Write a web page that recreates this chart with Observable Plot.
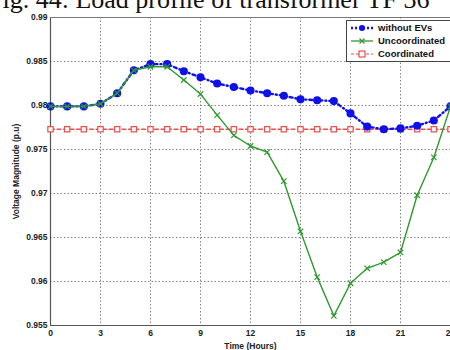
<!DOCTYPE html>
<html>
<head>
<meta charset="utf-8">
<script src="https://cdn.jsdelivr.net/npm/d3@7"></script>
<script src="https://cdn.jsdelivr.net/npm/@observablehq/plot@0.6"></script>
<style>
  html, body { margin: 0; padding: 0; background: #fff; overflow: hidden; }
  #wrap { position: relative; width: 450px; height: 350px; overflow: hidden; }
  #title { position: absolute; left: -12px; top: -15px; font-family: "Liberation Serif", "DejaVu Serif", serif; font-size: 26px; white-space: nowrap; color: #111; z-index: 2; }
  #legend { position: absolute; left: 346px; top: 20px; width: 110px; height: 40px; border: 1px solid #444; background: #fff; font-family: "Liberation Sans", Arial, sans-serif; font-weight: bold; font-size: 9.5px; color: #111; z-index: 3; }
  .row { display: flex; align-items: center; height: 13px; }
  .row svg { margin-left: 3px; margin-right: 4px; }
</style>
</head>
<body>
<div id="wrap">
  <div id="title">Fig. 44: Load profile of transformer TF 36</div>
  <div id="chart"></div>
  <div id="legend"></div>
</div>
<script>
const hours = [0,1,2,3,4,5,6,7,8,9,10,11,12,13,14,15,16,17,18,19,20,21,22,23,24];
const withoutEVs = [0.9799,0.9799,0.9799,0.9802,0.9814,0.9840,0.9847,0.9847,0.9839,0.9832,0.9825,0.9821,0.9817,0.9814,0.9811,0.9807,0.9806,0.9805,0.9791,0.9776,0.9773,0.9774,0.9777,0.9783,0.9799];
const uncoordinated = [0.9799,0.9799,0.9799,0.9802,0.9814,0.9840,0.9844,0.9844,0.9829,0.9813,0.9789,0.9766,0.9754,0.9747,0.9714,0.9657,0.9605,0.9561,0.9598,0.9615,0.9622,0.9633,0.9698,0.9741,0.9799];
const coordinated = [0.9773,0.9773,0.9773,0.9773,0.9773,0.9773,0.9773,0.9773,0.9773,0.9773,0.9773,0.9773,0.9773,0.9773,0.9773,0.9773,0.9773,0.9773,0.9773,0.9773,0.9773,0.9773,0.9773,0.9773,0.9773];
const xTicks = [0,3,6,9,12,15,18,21,24];
const yTicks = [0.955,0.96,0.965,0.97,0.975,0.98,0.985,0.99];
const seriesNames = ["without EVs","Uncoordinated","Coordinated"];

const blue = "#1010e8", green = "#2e9a2e", red = "#e5524e";

const dBlue = hours.map((h,i)=>({h, v: withoutEVs[i]}));
const dGreen = hours.map((h,i)=>({h, v: uncoordinated[i]}));
const dRed = hours.map((h,i)=>({h, v: coordinated[i]}));

const chart = Plot.plot({
  width: 450, height: 350,
  marginTop: 17, marginBottom: 25, marginLeft: 50, marginRight: 0,
  style: {fontFamily: "'Liberation Sans', Arial, sans-serif", fontSize: "8.5px", fontWeight: "bold", color: "#222", background: "#fff"},
  x: {domain: [0,24], ticks: xTicks, tickSize: 0, tickPadding: 4, label: "Time (Hours)", labelAnchor: "center", labelArrow: "none", labelOffset: 23},
  y: {domain: [0.955,0.99], ticks: yTicks, tickSize: 0, tickPadding: 3, tickFormat: d => String(+d.toFixed(3)), label: "Voltage Magnitude (p.u)", labelAnchor: "center", labelArrow: "none", labelOffset: 38},
  marks: [
    Plot.gridX(xTicks, {stroke: "#777", strokeOpacity: 0.9, strokeDasharray: "1.5,2"}),
    Plot.gridY(yTicks, {stroke: "#777", strokeOpacity: 0.9, strokeDasharray: "1.5,2"}),
    Plot.ruleX([0], {stroke: "#555", strokeWidth: 1.2}),
    Plot.ruleY([0.955], {stroke: "#555", strokeWidth: 1.2}),
    Plot.ruleY([0.99], {stroke: "#777", strokeWidth: 1}),
    Plot.line(dRed, {x: "h", y: "v", stroke: red, strokeWidth: 1.3, strokeDasharray: "4,2.5"}),
    Plot.dot(dRed, {x: "h", y: "v", symbol: "square", r: 3, stroke: red, strokeWidth: 1.2, fill: "#fff"}),
    Plot.line(dBlue, {x: "h", y: "v", stroke: blue, strokeWidth: 2.4, strokeDasharray: "3,3,1,3", curve: "linear"}),
    Plot.dot(dBlue, {x: "h", y: "v", r: 3.3, fill: blue, stroke: blue}),
    Plot.line(dGreen, {x: "h", y: "v", stroke: green, strokeWidth: 1.4}),
    Plot.dot(dGreen, {x: "h", y: "v", symbol: "times", r: 2.6, stroke: green, strokeWidth: 1.2})
  ]
});
document.getElementById("chart").appendChild(chart);

// legend
const leg = document.getElementById("legend");
const samples = [
  `<svg width="24" height="10"><line x1="1" y1="5" x2="23" y2="5" stroke="${blue}" stroke-width="2.4" stroke-dasharray="2,2"/><circle cx="12" cy="5" r="3" fill="${blue}"/></svg>`,
  `<svg width="24" height="10"><line x1="1" y1="5" x2="23" y2="5" stroke="${green}" stroke-width="1.3"/><path d="M9.5,2.5L14.5,7.5M14.5,2.5L9.5,7.5" stroke="${green}" stroke-width="1.2"/></svg>`,
  `<svg width="24" height="10"><line x1="1" y1="5" x2="23" y2="5" stroke="${red}" stroke-width="1.2" stroke-dasharray="3,2"/><rect x="9" y="2" width="6" height="6" fill="#fff" stroke="${red}" stroke-width="1.2"/></svg>`
];
leg.innerHTML = seriesNames.map((n,i)=>`<div class="row">${samples[i]}<span>${n}</span></div>`).join("");
</script>
</body>
</html>
